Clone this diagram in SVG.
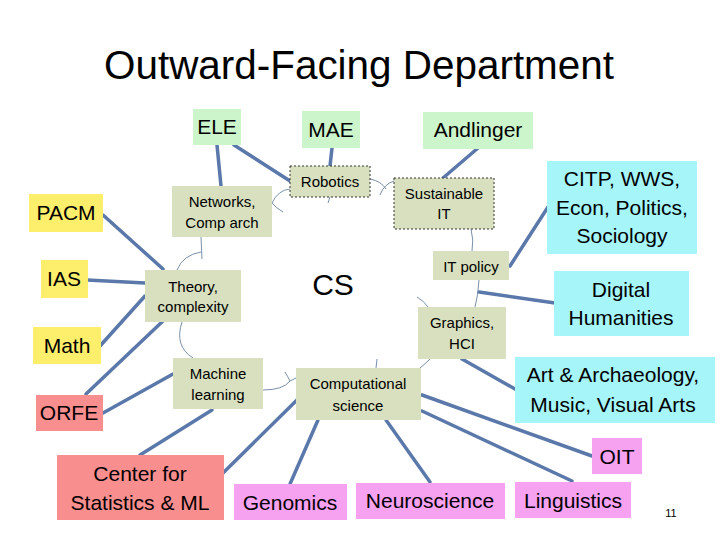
<svg xmlns="http://www.w3.org/2000/svg" width="720" height="540" viewBox="0 0 720 540">
<style>
text{font-family:"Liberation Sans",Arial,sans-serif;fill:#000;text-anchor:middle}
.t{font-size:40px}
.o{font-size:21px}
.i{font-size:15px}
.cs{font-size:30px}
.pg{font-size:11px}
.g{fill:#ccf5cc}
.y{fill:#fdee6c}
.r{fill:#f88e8e}
.p{fill:#f6a2f1}
.c{fill:#a6f5f9}
.v{fill:#d8e0bf}
.d{stroke:#333;stroke-width:1;stroke-dasharray:2 2}
.thick{stroke:#5a78aa;stroke-width:3.5;fill:none;stroke-linecap:round}
.thin{stroke:#7a90aa;stroke-width:1;fill:none}
</style>
<rect width="720" height="540" fill="#fff"/>
<text class="t" x="359" y="79" textLength="510" lengthAdjust="spacingAndGlyphs">Outward-Facing Department</text>

<g id="connectors">
<line class="thick" x1="217" y1="145" x2="221" y2="186"/>
<line class="thick" x1="234" y1="145" x2="290" y2="181"/>
<line class="thick" x1="332" y1="148" x2="330" y2="166"/>
<line class="thick" x1="478" y1="148" x2="443" y2="178"/>
<line class="thick" x1="103" y1="215" x2="163" y2="269"/>
<line class="thick" x1="87" y1="280" x2="145" y2="283"/>
<line class="thick" x1="100" y1="346" x2="145" y2="296"/>
<line class="thick" x1="86" y1="394" x2="163" y2="321"/>
<line class="thick" x1="103" y1="413" x2="173" y2="374"/>
<line class="thick" x1="140" y1="455" x2="212" y2="410"/>
<line class="thick" x1="223" y1="473" x2="300" y2="397"/>
<line class="thick" x1="290" y1="484" x2="318" y2="420"/>
<line class="thick" x1="430" y1="482" x2="386" y2="420"/>
<line class="thick" x1="572" y1="481" x2="422" y2="411"/>
<line class="thick" x1="592" y1="456" x2="422" y2="395"/>
<line class="thick" x1="515" y1="389" x2="462" y2="359"/>
<line class="thick" x1="555" y1="303" x2="479" y2="292"/>
<line class="thick" x1="548" y1="207" x2="510" y2="266"/>
<!-- thin brace connectors around CS -->
<path class="thin" d="M290,189 Q278,190 272,203 Q276,208 283,212"/>
<path class="thin" d="M370,179 Q381,181 386,189"/>
<path class="thin" d="M394,181 Q384,184 380,195"/>
<path class="thin" d="M330,197 L328,203"/>
<path class="thin" d="M471,229 Q474,240 472,251"/>
<path class="thin" d="M479,280 Q478,296 475,307"/>
<path class="thin" d="M417,297 Q424,301 428,307"/>
<path class="thin" d="M430,359 Q425,364 420,368"/>
<path class="thin" d="M377,359 L376,368"/>
<path class="thin" d="M263,390 Q283,390 290,381 L296,378"/>
<path class="thin" d="M285,372 Q288,377 290,381"/>
<path class="thin" d="M182,322 Q174,346 193,358"/>
<path class="thin" d="M201,237 L202,259"/>
<path class="thin" d="M201,252 Q183,255 177,270"/>
</g>

<g id="ELE"><rect class="g" x="193" y="109" width="48" height="36"/><text class="o" x="217" y="134">ELE</text></g>
<g id="MAE"><rect class="g" x="302" y="111" width="58" height="37"/><text class="o" x="331" y="137">MAE</text></g>
<g id="Andlinger"><rect class="g" x="423" y="112" width="110" height="37"/><text class="o" x="478" y="137">Andlinger</text></g>
<g id="PACM"><rect class="y" x="29" y="194" width="74" height="38"/><text class="o" x="66" y="220">PACM</text></g>
<g id="IAS"><rect class="y" x="41" y="260" width="47" height="38"/><text class="o" x="64" y="286">IAS</text></g>
<g id="Math"><rect class="y" x="33" y="327" width="68" height="37"/><text class="o" x="67" y="353">Math</text></g>
<g id="ORFE"><rect class="r" x="36" y="395" width="67" height="36"/><text class="o" x="69" y="420">ORFE</text></g>
<g id="CenterStatsML"><rect class="r" x="57" y="455" width="167" height="65"/><text class="o" x="140" y="481">Center for</text><text class="o" x="140" y="510">Statistics &amp; ML</text></g>
<g id="Genomics"><rect class="p" x="234" y="484" width="113" height="36"/><text class="o" x="290" y="510">Genomics</text></g>
<g id="Neuroscience"><rect class="p" x="356" y="483" width="149" height="36"/><text class="o" x="430" y="508">Neuroscience</text></g>
<g id="Linguistics"><rect class="p" x="515" y="482" width="116" height="36"/><text class="o" x="573" y="508">Linguistics</text></g>
<g id="OIT"><rect class="p" x="592" y="438" width="50" height="36"/><text class="o" x="617" y="464">OIT</text></g>
<g id="CITP"><rect class="c" x="547" y="161" width="150" height="93"/><text class="o" x="622" y="186">CITP, WWS,</text><text class="o" x="622" y="215">Econ, Politics,</text><text class="o" x="622" y="243">Sociology</text></g>
<g id="DigitalHumanities"><rect class="c" x="554" y="271" width="135" height="65"/><text class="o" x="621" y="297">Digital</text><text class="o" x="621" y="325">Humanities</text></g>
<g id="ArtMusic"><rect class="c" x="515" y="357" width="200" height="66"/><text class="o" x="613" y="382">Art &amp; Archaeology,</text><text class="o" x="613" y="412">Music, Visual Arts</text></g>

<g id="Networks"><rect class="v" x="172" y="186" width="100" height="51"/><text class="i" x="222" y="207">Networks,</text><text class="i" x="222" y="228">Comp arch</text></g>
<g id="Robotics"><rect class="v d" x="290" y="166" width="80" height="31"/><text class="i" x="330" y="187">Robotics</text></g>
<g id="SustainableIT"><rect class="v d" x="394" y="178" width="100" height="51"/><text class="i" x="444" y="199">Sustainable</text><text class="i" x="444" y="219">IT</text></g>
<g id="ITpolicy"><rect class="v" x="433" y="251" width="76" height="29"/><text class="i" x="471" y="272">IT policy</text></g>
<g id="Graphics"><rect class="v" x="418" y="307" width="88" height="52"/><text class="i" x="462" y="328">Graphics,</text><text class="i" x="462" y="349">HCI</text></g>
<g id="CompSci"><rect class="v" x="296" y="368" width="125" height="52"/><text class="i" x="358" y="389">Computational</text><text class="i" x="358" y="411">science</text></g>
<g id="ML"><rect class="v" x="173" y="358" width="90" height="51"/><text class="i" x="218" y="379">Machine</text><text class="i" x="218" y="400">learning</text></g>
<g id="Theory"><rect class="v" x="145" y="270" width="96" height="52"/><text class="i" x="193" y="292">Theory,</text><text class="i" x="193" y="312">complexity</text></g>
<g id="CS"><text class="cs" x="333" y="295">CS</text></g>
<text class="pg" x="671" y="517">11</text>
</svg>
